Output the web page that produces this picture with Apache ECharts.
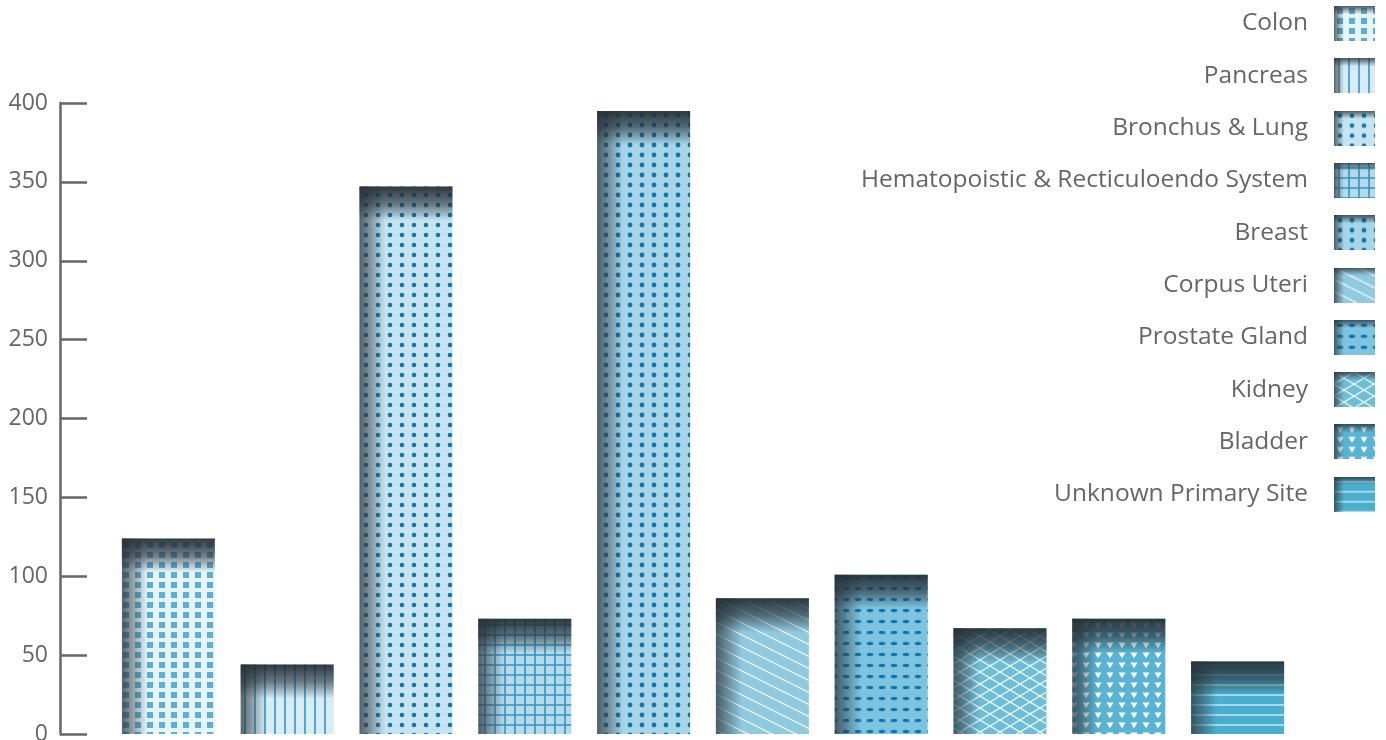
<!DOCTYPE html>
<html>
<head>
<meta charset="utf-8">
<title>Cases by Primary Site</title>
<script src="https://cdn.jsdelivr.net/npm/echarts@6/dist/echarts.min.js"></script>
<style>
  html, body { margin: 0; padding: 0; background: #ffffff; }
  #chart { width: 1386px; height: 740px; }
</style>
</head>
<body>
<div id="chart"></div>
<script>
// Primary sites and case counts
const sites = [
  'Colon',
  'Pancreas',
  'Bronchus & Lung',
  'Hematopoistic & Recticuloendo System',
  'Breast',
  'Corpus Uteri',
  'Prostate Gland',
  'Kidney',
  'Bladder',
  'Unknown Primary Site'
];
const cases = [124, 44, 347, 73, 395, 86, 101, 67, 73, 46];
const yTicks = { min: 0, max: 400, step: 50 };

const BAR_W = 93;
const TEXT = '#666666';
const FONT = 'Open Sans';

// Small repeating tiles used as bar fills
function tile(w, h, bg, draw) {
  const c = document.createElement('canvas');
  c.width = w; c.height = h;
  const ctx = c.getContext('2d');
  ctx.fillStyle = bg;
  ctx.fillRect(0, 0, w, h);
  draw(ctx, w, h);
  return c;
}
function dots(color, r) {
  return (ctx, w, h) => {
    ctx.fillStyle = color;
    ctx.beginPath();
    ctx.arc(w / 2, h / 2, r, 0, Math.PI * 2);
    ctx.fill();
  };
}
function lines(ctx, color, width, segs) {
  ctx.strokeStyle = color;
  ctx.lineWidth = width;
  ctx.beginPath();
  segs.forEach(s => { ctx.moveTo(s[0], s[1]); ctx.lineTo(s[2], s[3]); });
  ctx.stroke();
}

const tiles = [
  // Colon: squares
  tile(12, 10, '#e7f5f9', (ctx) => { ctx.fillStyle = '#5aafd6'; ctx.fillRect(3, 2, 6, 6); }),
  // Pancreas: vertical rules
  tile(10, 10, '#d7ecf4', (ctx) => lines(ctx, '#1a8cc4', 1.4, [[5, 0, 5, 10]])),
  // Bronchus & Lung: dots
  tile(12, 10, '#c6e4ef', dots('#0c79b2', 2.3)),
  // Hematopoietic: grid
  tile(10, 10, '#b5dbe9', (ctx) => lines(ctx, 'rgba(26,134,190,0.85)', 1.6, [[5, 0, 5, 10], [0, 5, 10, 5]])),
  // Breast: dots
  tile(12, 10, '#a7d4e6', dots('#0b78b0', 2.4)),
  // Corpus Uteri: diagonal hatching
  tile(24, 12, '#8fcae0', (ctx) => lines(ctx, 'rgba(255,255,255,0.85)', 1.3,
    [[0, 0, 24, 12], [0, -12, 24, 0], [0, 12, 24, 24]])),
  // Prostate Gland: dashes
  tile(12, 11, '#7ec4de', (ctx) => {
    ctx.fillStyle = '#0a79b2';
    ctx.beginPath();
    ctx.ellipse(6, 5.5, 3.3, 1.7, 0, 0, Math.PI * 2);
    ctx.fill();
  }),
  // Kidney: lattice
  tile(20, 12, '#6cbdd8', (ctx) => lines(ctx, 'rgba(255,255,255,0.9)', 1.3,
    [[0, 0, 20, 12], [0, 12, 20, 0]])),
  // Bladder: inverted triangles
  tile(12, 10, '#59b4d3', (ctx) => {
    ctx.fillStyle = '#ffffff';
    ctx.beginPath();
    ctx.moveTo(2.5, 2.5); ctx.lineTo(9.5, 2.5); ctx.lineTo(6, 8.2); ctx.closePath();
    ctx.fill();
  }),
  // Unknown Primary Site: horizontal rules
  tile(10, 10, '#4aafcf', (ctx) => lines(ctx, 'rgba(225,242,248,0.9)', 1.4, [[0, 5, 10, 5]]))
];

// Legend swatches: the fill plus the same top/left shading as the bars
function swatch(t) {
  const w = 41, h = 35;
  const c = document.createElement('canvas');
  c.width = w; c.height = h;
  const ctx = c.getContext('2d');
  ctx.fillStyle = ctx.createPattern(t, 'repeat');
  ctx.fillRect(0, 0, w, h);
  let g = ctx.createLinearGradient(0, 0, 10, 0);
  g.addColorStop(0, 'rgba(45,55,62,0.75)');
  g.addColorStop(1, 'rgba(45,55,62,0)');
  ctx.fillStyle = g; ctx.fillRect(0, 0, 10, h);
  g = ctx.createLinearGradient(0, 0, 0, 8);
  g.addColorStop(0, 'rgba(40,52,60,0.8)');
  g.addColorStop(1, 'rgba(40,52,60,0)');
  ctx.fillStyle = g; ctx.fillRect(0, 0, w, 8);
  return 'image://' + c.toDataURL('image/png');
}

const barSeries = sites.map((name, i) => ({
  name: name,
  type: 'bar',
  stack: 'sites',
  barWidth: BAR_W,
  data: cases.map((v, j) => (j === i ? v : '-')),
  itemStyle: { color: { image: tiles[i], repeat: 'repeat' } },
  emphasis: { disabled: true },
  z: 2
}));

// Shading drawn over each bar: dark band along the top and the left edge
const shade = {
  type: 'custom',
  name: 'shade',
  silent: true,
  z: 3,
  encode: { x: 0, y: 1 },
  data: cases.map((v, i) => [i, v]),
  renderItem: (params, api) => {
    const top = api.coord([api.value(0), api.value(1)]);
    const base = api.coord([api.value(0), 0]);
    const x0 = top[0] - BAR_W / 2;
    const h = base[1] - top[1];
    return {
      type: 'group',
      children: [
        {
          type: 'rect',
          shape: { x: x0, y: top[1], width: 26, height: h },
          style: {
            fill: new echarts.graphic.LinearGradient(0, 0, 1, 0, [
              { offset: 0, color: 'rgba(45,55,62,0.75)' },
              { offset: 0.35, color: 'rgba(45,55,62,0.5)' },
              { offset: 1, color: 'rgba(45,55,62,0)' }
            ])
          }
        },
        {
          type: 'rect',
          shape: { x: x0, y: top[1], width: BAR_W, height: Math.min(34, h) },
          style: {
            fill: new echarts.graphic.LinearGradient(0, 0, 0, 1, [
              { offset: 0, color: 'rgba(38,48,55,0.95)' },
              { offset: 0.5, color: 'rgba(38,48,55,0.62)' },
              { offset: 1, color: 'rgba(38,48,55,0)' }
            ])
          }
        }
      ]
    };
  }
};

const chart = echarts.init(document.getElementById('chart'), null, { renderer: 'canvas' });
chart.setOption({
  animation: false,
  backgroundColor: '#ffffff',
  grid: { left: 109, right: 89, top: 103, bottom: 6, outerBoundsMode: 'none' },
  legend: {
    orient: 'vertical',
    right: 11,
    top: 6,
    padding: 0,
    align: 'right',
    itemWidth: 41,
    itemHeight: 35,
    itemGap: 17.3,
    selectedMode: false,
    textStyle: { fontFamily: FONT, fontSize: 24.5, color: TEXT, padding: [0, 21, 0, 0] },
    data: sites.map((s, i) => ({ name: s, icon: swatch(tiles[i]) }))
  },
  xAxis: {
    type: 'category',
    data: sites,
    show: false
  },
  yAxis: {
    type: 'value',
    min: yTicks.min,
    max: yTicks.max,
    interval: yTicks.step,
    offset: 49,
    axisLine: { show: true, lineStyle: { color: TEXT, width: 2.5 } },
    axisTick: { show: true, inside: true, length: 27, lineStyle: { color: TEXT, width: 2.5 } },
    axisLabel: { color: TEXT, fontFamily: FONT, fontSize: 23, margin: 12 },
    splitLine: { show: false }
  },
  series: barSeries.concat([shade])
});
</script>
</body>
</html>
